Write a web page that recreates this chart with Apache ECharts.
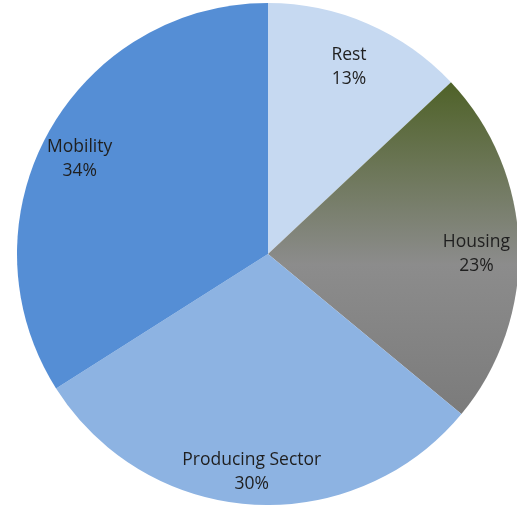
<!DOCTYPE html>
<html>
<head>
<meta charset="utf-8">
<script src="https://cdn.jsdelivr.net/npm/echarts@6/dist/echarts.min.js"></script>
<style>
html,body{margin:0;padding:0;background:#fff;}
#chart{width:517px;height:505px;}
</style>
</head>
<body>
<div id="chart"></div>
<script>
const categories = ['Rest', 'Housing', 'Producing Sector', 'Mobility'];
const values = [13, 23, 30, 34];

const chart = echarts.init(document.getElementById('chart'), null, {renderer: 'canvas'});

const colors = [
  '#c6d9f1',
  new echarts.graphic.LinearGradient(0, 0, 0, 1, [
    {offset: 0, color: '#4f6228'},
    {offset: 0.55, color: '#8c8c8c'},
    {offset: 1, color: '#7b7b7b'}
  ]),
  '#8db3e2',
  '#558ed5'
];

const pieData = categories.map((c, i) => ({name: c, value: values[i], itemStyle: {color: colors[i]}}));
const labelData = categories.map((c, i) => ({name: c, value: values[i]}));

chart.setOption({
  animation: false,
  backgroundColor: '#ffffff',
  series: [
    {
      type: 'pie',
      center: [268, 254],
      radius: [0, 251],
      startAngle: 90,
      clockwise: true,
      silent: true,
      itemStyle: {borderWidth: 0},
      label: {show: false},
      labelLine: {show: false},
      data: pieData
    },
    {
      type: 'pie',
      center: [268, 254],
      radius: [166, 251],
      startAngle: 90,
      clockwise: true,
      silent: true,
      itemStyle: {color: 'rgba(0,0,0,0)', borderWidth: 0},
      label: {
        show: true,
        position: 'inside',
        formatter: '{b}\n{c}%',
        color: '#1f1f1f',
        fontFamily: 'Open Sans',
        fontSize: 17.5,
        lineHeight: 24,
        align: 'center',
        offset: [-3, 7]
      },
      labelLine: {show: false},
      data: labelData
    }
  ]
});
</script>
</body>
</html>
